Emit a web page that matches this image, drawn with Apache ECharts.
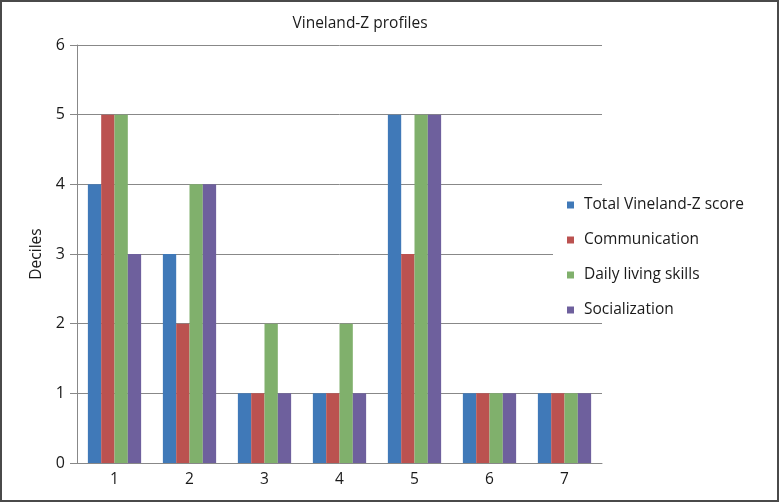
<!DOCTYPE html>
<html><head><meta charset="utf-8">
<script src="https://cdn.jsdelivr.net/npm/echarts@6/dist/echarts.min.js"></script>
<style>html,body{margin:0;padding:0;background:#fff}#c{width:779px;height:502px}</style>
</head><body><div id="c"></div>
<script>
const categories = ['1','2','3','4','5','6','7'];
const seriesNames = ['Total Vineland-Z score','Communication','Daily living skills','Socialization'];
const totalScore = [4,3,1,1,5,1,1];
const communication = [5,2,1,1,3,1,1];
const dailyLiving = [5,4,2,2,5,1,1];
const socialization = [3,4,1,1,5,1,1];
const yTicks = [0,1,2,3,4,5,6];

const colors = ['#4079b8','#bb5250','#80b06c','#6e609d'];
const font = '"Open Sans", "Noto Sans", sans-serif';
const values = [totalScore, communication, dailyLiving, socialization];

const chart = echarts.init(document.getElementById('c'));
chart.setOption({
  animation: false,
  color: colors,
  textStyle: {fontFamily: font},
  title: {
    text: 'Vineland-Z profiles',
    left: 355, top: 11, textAlign: 'center',
    textStyle: {fontFamily: font, fontSize: 15.5, fontWeight: 'normal', color: '#1a1a1a'}
  },
  graphic: [{
    type: 'rect', shape: {x: 1, y: 1, width: 777, height: 500},
    style: {fill: 'none', stroke: '#4a4a4a', lineWidth: 2}, z: 100
  }],
  legend: {
    orient: 'vertical', left: 553, top: 192,
    padding: [4, 10, 4, 14],
    backgroundColor: '#fff',
    icon: 'rect', itemWidth: 7, itemHeight: 7, itemGap: 17,
    textStyle: {fontFamily: font, fontSize: 15.5, color: '#1a1a1a', lineHeight: 18, padding: [0, 0, 0, 5]},
    data: seriesNames
  },
  grid: {left: 77, right: 177, top: 45, bottom: 39},
  xAxis: {
    type: 'category', data: categories,
    axisLine: {lineStyle: {color: '#888', width: 1}},
    axisTick: {show: false},
    axisLabel: {fontFamily: font, fontSize: 15.5, color: '#1a1a1a', margin: 9}
  },
  yAxis: {
    type: 'value', min: yTicks[0], max: yTicks[yTicks.length-1], interval: 1,
    name: 'Deciles', nameLocation: 'middle', nameGap: 30,
    nameTextStyle: {fontFamily: font, fontSize: 15.5, color: '#1a1a1a'},
    axisLine: {show: true, lineStyle: {color: '#888'}},
    axisTick: {show: true, length: 7, lineStyle: {color: '#888'}},
    axisLabel: {fontFamily: font, fontSize: 16, color: '#1a1a1a', margin: 12},
    splitLine: {lineStyle: {color: '#888', width: 1}}
  },
  series: seriesNames.map((n, i) => ({
    name: n, type: 'bar', data: values[i],
    barGap: '0%', barCategoryGap: '29%'
  }))
});
</script></body></html>
